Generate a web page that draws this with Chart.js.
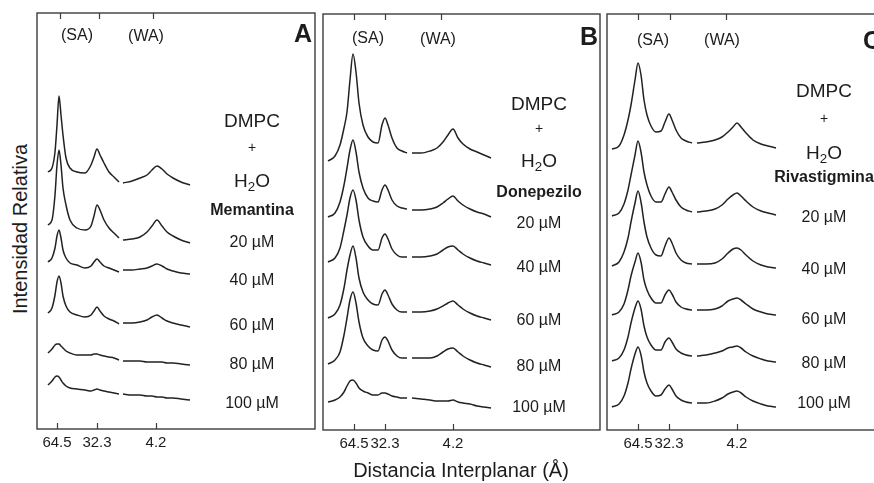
<!DOCTYPE html>
<html>
<head>
<meta charset="utf-8">
<script src="https://cdn.jsdelivr.net/npm/chart.js@4.4.1/dist/chart.umd.min.js"></script>
<style>
  body { margin: 0; width: 874px; height: 483px; overflow: hidden; background: #fff;
         font-family: "Liberation Sans", Arial, sans-serif; color: #1c1c1c; position: relative; }
  canvas { position: absolute; }
  .t { position: absolute; transform: translate(-50%, -50%); white-space: nowrap; line-height: 1; }
  .conc { font-size: 16px; }
  .big { font-size: 19px; }
  .title { font-size: 20px; }
  .plus { font-size: 14px; }
  .drug { font-size: 16px; font-weight: bold; }
  .tag { font-size: 16px; }
  .letter { font-size: 25px; font-weight: bold; }
  sub { font-size: 0.7em; vertical-align: -0.35em; line-height: 0; }
</style>
</head>
<body>
<canvas id="chartA" width="282" height="452" style="left:35px;top:11px"></canvas>
<canvas id="chartB" width="281" height="452" style="left:321px;top:12px"></canvas>
<canvas id="chartC" width="281" height="452" style="left:605px;top:12px"></canvas>
<div id="labels"></div>

<script>
// x axis tick labels (Å) and stacked trace labels
const tickLabels = ['64.5', '32.3', '4.2'];
const concLabels = ['20 µM', '40 µM', '60 µM', '80 µM', '100 µM'];
const drugs = ['Memantina', 'Donepezilo', 'Rivastigmina'];
const panelLetters = ['A', 'B', 'C'];

// ---- panel A (Memantina) ----
const ticksA = [20, 60, 119];
const topTicksA = [23, 62, 116];
const saxsXA = [11, 15, 18, 20, 22, 24, 26, 29, 33, 40, 48, 54, 57, 60, 63, 67, 72, 77, 82];
const waxsXA = [86, 95, 103, 110, 115, 120, 125, 130, 136, 144, 153];
const saxsA = [
  [257, 261, 277, 304, 333, 314, 294, 271, 261, 257, 256, 264, 272, 280, 274, 266, 257, 252, 247],
  [204, 209, 234, 264, 279, 264, 241, 224, 209, 201, 199, 203, 213, 224, 219, 209, 201, 196, 191],
  [167, 171, 181, 193, 199, 191, 179, 171, 166, 164, 161, 163, 167, 170, 167, 163, 161, 159, 157],
  [116, 121, 134, 147, 153, 146, 133, 123, 117, 114, 112, 114, 118, 122, 118, 113, 110, 108, 105],
  [76, 80, 84, 85, 85, 83, 81, 78, 76, 74, 74, 74, 75, 75, 74, 73, 72, 71, 69],
  [44, 48, 52, 53, 52, 49, 46, 43, 41, 40, 39, 38, 39, 40, 39, 38, 37, 36, 35]
];
const waxsA = [
  [246, 248, 251, 254, 259, 263, 260, 255, 251, 247, 244],
  [189, 190, 192, 197, 203, 209, 203, 197, 193, 189, 186],
  [159, 159, 160, 161, 163, 165, 163, 160, 158, 156, 155],
  [106, 106, 107, 109, 112, 114, 111, 108, 106, 104, 102],
  [68, 68, 68, 67, 67, 67, 67, 66, 66, 65, 64],
  [35, 34, 34, 33, 33, 32, 32, 31, 31, 30, 29]
];

// ---- panel B (Donepezilo) ----
const ticksB = [31, 62, 130];
const topTicksB = [31, 62, 118];
const saxsXB = [5, 12, 17, 21, 24, 27, 30, 33, 36, 40, 45, 50, 55, 59, 62, 65, 69, 74, 79, 84];
const waxsXB = [89, 98, 107, 114, 120, 125, 130, 135, 140, 147, 154, 161, 168];
const saxsB = [
  [269, 274, 285, 302, 318, 350, 376, 358, 327, 305, 293, 288, 287, 305, 312, 305, 292, 282, 279, 277],
  [213, 217, 228, 245, 262, 280, 290, 278, 258, 242, 232, 229, 228, 240, 245, 240, 230, 224, 222, 221],
  [168, 172, 182, 200, 215, 232, 240, 230, 210, 193, 184, 180, 180, 192, 196, 191, 181, 175, 173, 173],
  [112, 116, 125, 142, 160, 175, 184, 172, 152, 138, 130, 126, 125, 136, 140, 135, 126, 120, 118, 118],
  [66, 70, 78, 95, 112, 130, 138, 127, 108, 92, 84, 80, 79, 90, 93, 89, 80, 74, 72, 72],
  [28, 30, 33, 38, 44, 49, 50, 47, 42, 39, 37, 35, 35, 37, 37, 36, 34, 33, 32, 32]
];
const waxsB = [
  [277, 277, 279, 282, 288, 295, 301, 292, 286, 281, 278, 275, 272],
  [220, 220, 221, 223, 227, 231, 234, 229, 225, 221, 218, 216, 213],
  [173, 173, 174, 176, 180, 183, 184, 180, 176, 172, 169, 167, 165],
  [118, 118, 119, 121, 124, 127, 129, 125, 121, 117, 114, 112, 110],
  [72, 72, 72, 74, 78, 81, 82, 78, 74, 70, 67, 65, 63],
  [32, 31, 30, 29, 29, 29, 30, 28, 27, 26, 24, 23, 22]
];

// ---- panel C (Rivastigmina) ----
const ticksC = [31, 62, 130];
const topTicksC = [31, 63, 119];
const saxsXC = [5, 12, 17, 21, 24, 28, 31, 34, 37, 40, 44, 49, 54, 58, 62, 65, 69, 74, 79, 85];
const waxsXC = [90, 99, 108, 115, 121, 126, 130, 134, 139, 146, 154, 161, 169];
const saxsC = [
  [281, 284, 295, 310, 325, 350, 367, 355, 330, 315, 304, 298, 299, 308, 316, 310, 300, 292, 289, 287],
  [214, 217, 226, 240, 255, 275, 289, 278, 258, 245, 234, 228, 228, 236, 243, 238, 230, 223, 220, 218],
  [164, 168, 178, 192, 208, 227, 239, 228, 208, 193, 182, 175, 174, 184, 192, 187, 177, 170, 167, 166],
  [115, 118, 126, 140, 154, 168, 177, 168, 150, 140, 132, 127, 127, 135, 140, 136, 128, 123, 121, 120],
  [69, 72, 80, 93, 107, 122, 129, 121, 104, 93, 85, 80, 80, 88, 92, 88, 81, 77, 75, 74],
  [23, 26, 34, 47, 61, 76, 83, 75, 58, 47, 39, 34, 35, 41, 45, 41, 34, 30, 28, 27]
];
const waxsC = [
  [287, 288, 290, 293, 298, 303, 307, 303, 297, 290, 286, 284, 282],
  [218, 219, 221, 225, 231, 235, 237, 234, 229, 223, 219, 217, 215],
  [166, 166, 167, 171, 177, 181, 182, 180, 175, 169, 165, 163, 162],
  [120, 120, 121, 124, 129, 131, 132, 130, 126, 121, 118, 116, 115],
  [74, 75, 77, 79, 82, 83, 84, 82, 78, 74, 71, 69, 68],
  [27, 27, 29, 32, 36, 38, 39, 37, 33, 29, 26, 24, 23]
];

// box, inner tick marks
const frame = {
  id: 'frame',
  afterDraw(chart, args, opts) {
    const { ctx, chartArea: a } = chart;
    const x = chart.scales.x;
    ctx.save();
    ctx.strokeStyle = '#3c3c3c';
    ctx.lineWidth = 1.4;
    ctx.strokeRect(a.left, a.top, a.right - a.left, a.bottom - a.top);
    ctx.lineWidth = 1.2;
    ctx.beginPath();
    opts.bottom.forEach(v => {
      const px = Math.round(x.getPixelForValue(v)) + 0.5;
      ctx.moveTo(px, a.bottom);
      ctx.lineTo(px, a.bottom - 6);
    });
    opts.top.forEach(v => {
      const px = Math.round(x.getPixelForValue(v)) + 0.5;
      ctx.moveTo(px, a.top);
      ctx.lineTo(px, a.top + 6);
    });
    ctx.stroke();
    ctx.restore();
  }
};

function makeChart(id, width, saxsX, waxsX, saxs, waxs, ticks, topTicks) {
  const gapX = (saxsX[saxsX.length - 1] + waxsX[0]) / 2;
  const datasets = saxs.map((s, k) => ({
    data: saxsX.map((x, i) => ({ x: x, y: s[i] }))
      .concat([{ x: gapX, y: null }])
      .concat(waxsX.map((x, i) => ({ x: x, y: waxs[k][i] }))),
    borderColor: '#222',
    borderWidth: 1.5,
    pointRadius: 0,
    fill: false,
    cubicInterpolationMode: 'monotone',
    spanGaps: false
  }));
  return new Chart(document.getElementById(id), {
    type: 'line',
    data: { datasets: datasets },
    options: {
      responsive: false,
      animation: false,
      layout: { padding: { top: 2, left: 2, right: 2, bottom: 0 } },
      plugins: {
        legend: { display: false },
        tooltip: { enabled: false },
        frame: { bottom: ticks, top: topTicks }
      },
      scales: {
        x: {
          type: 'linear',
          min: 0,
          max: width,
          grid: { display: false, drawTicks: false },
          border: { display: false },
          afterBuildTicks: s => { s.ticks = ticks.map(v => ({ value: v })); },
          afterFit: s => { s.height = 34; },
          ticks: {
            autoSkip: false,
            maxRotation: 0,
            padding: 5,
            color: '#1c1c1c',
            font: { family: '"Liberation Sans", Arial, sans-serif', size: 15 },
            callback: (v, i) => tickLabels[i]
          }
        },
        y: { display: false, min: 0, max: 416 }
      }
    },
    plugins: [frame]
  });
}

makeChart('chartA', 278, saxsXA, waxsXA, saxsA, waxsA, ticksA, topTicksA);
makeChart('chartB', 277, saxsXB, waxsXB, saxsB, waxsB, ticksB, topTicksB);
makeChart('chartC', 277, saxsXC, waxsXC, saxsC, waxsC, ticksC, topTicksC);

// annotations
const layout = [
  { cx: 252, head: [120, 147, 180, 210], conc: [242, 280, 325, 364, 403], sa: [77, 35], wa: [146, 36], letter: [303, 33] },
  { cx: 539, head: [103, 128, 160, 192], conc: [223, 267, 320, 366, 407], sa: [368, 38], wa: [438, 39], letter: [589, 36] },
  { cx: 824, head: [90, 118, 152, 177], conc: [217, 269, 319, 363, 403], sa: [653, 40], wa: [722, 40], letter: [872, 40] }
];
const host = document.getElementById('labels');
function put(cls, x, y, html) {
  const d = document.createElement('div');
  d.className = 't ' + cls;
  d.style.left = x + 'px';
  d.style.top = y + 'px';
  d.innerHTML = html;
  host.appendChild(d);
}
layout.forEach((p, k) => {
  put('big', p.cx, p.head[0], 'DMPC');
  put('plus', p.cx, p.head[1], '+');
  put('big', p.cx, p.head[2], 'H<sub>2</sub>O');
  put('drug', p.cx, p.head[3], drugs[k]);
  concLabels.forEach((c, i) => put('conc', p.cx, p.conc[i], c));
  put('tag', p.sa[0], p.sa[1], '(SA)');
  put('tag', p.wa[0], p.wa[1], '(WA)');
  put('letter', p.letter[0], p.letter[1], panelLetters[k]);
});
put('title', 461, 470, 'Distancia Interplanar (Å)');
const yt = document.createElement('div');
yt.className = 't title';
yt.style.left = '20px';
yt.style.top = '229px';
yt.style.transform = 'translate(-50%, -50%) rotate(-90deg)';
yt.textContent = 'Intensidad Relativa';
host.appendChild(yt);
</script>
</body>
</html>
